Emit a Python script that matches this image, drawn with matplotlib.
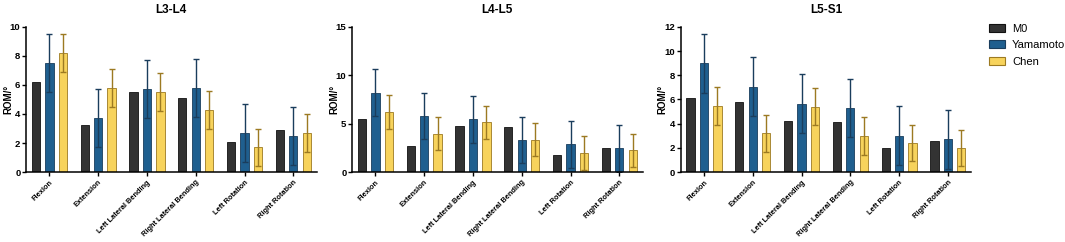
import numpy as np
import matplotlib.pyplot as plt
from matplotlib.patches import Patch

plt.rcParams['font.family'] = ['Liberation Sans', 'DejaVu Sans']

motions = ['Flexion', 'Extension', 'Left Lateral Bending',
           'Right Lateral Bending', 'Left Rotation', 'Right Rotation']
groups = ['M0', 'Yamamoto', 'Chen']

# L3-L4
l34_m0 = [6.2, 3.25, 5.5, 5.1, 2.1, 2.9]
l34_yam = [7.5, 3.7, 5.7, 5.8, 2.7, 2.5]
l34_yam_sd = [2.0, 2.0, 2.0, 2.0, 2.0, 2.0]
l34_chen = [8.2, 5.8, 5.5, 4.3, 1.7, 2.7]
l34_chen_sd = [1.3, 1.3, 1.3, 1.3, 1.3, 1.3]

# L4-L5
l45_m0 = [5.5, 2.65, 4.75, 4.65, 1.8, 2.5]
l45_yam = [8.2, 5.8, 5.45, 3.3, 2.85, 2.45]
l45_yam_sd = [2.4, 2.4, 2.4, 2.4, 2.4, 2.4]
l45_chen = [6.2, 3.95, 5.15, 3.35, 2.0, 2.25]
l45_chen_sd = [1.75, 1.7, 1.7, 1.7, 1.75, 1.7]

# L5-S1
l5s1_m0 = [6.15, 5.8, 4.2, 4.15, 1.95, 2.55]
l5s1_yam = [9.0, 7.05, 5.65, 5.3, 3.0, 2.7]
l5s1_yam_sd = [2.45, 2.45, 2.45, 2.4, 2.45, 2.45]
l5s1_chen = [5.45, 3.2, 5.4, 3.0, 2.4, 2.0]
l5s1_chen_sd = [1.55, 1.55, 1.55, 1.55, 1.5, 1.5]

panels = [
    ('L3-L4', l34_m0, l34_yam, l34_yam_sd, l34_chen, l34_chen_sd, 10, 2),
    ('L4-L5', l45_m0, l45_yam, l45_yam_sd, l45_chen, l45_chen_sd, 15, 5),
    ('L5-S1', l5s1_m0, l5s1_yam, l5s1_yam_sd, l5s1_chen, l5s1_chen_sd, 12, 2),
]

fill = ['#333333', '#1f5f8f', '#f7d35c']
edge = ['#111111', '#1a3d5c', '#9c7a22']

fig = plt.figure(figsize=(10.65, 2.42), dpi=100)
lefts = [0.0244, 0.3305, 0.639]
width = 0.273
bw = 0.17
off = 0.275
x = np.arange(len(motions))

for left, (title, m0, yam, yam_sd, chen, chen_sd, ymax, step) in zip(lefts, panels):
    ax = fig.add_axes([left, 0.289, width, 0.6])
    ax.bar(x - off, m0, bw, color=fill[0], edgecolor=edge[0], linewidth=0.6)
    ax.bar(x, yam, bw, color=fill[1], edgecolor=edge[1], linewidth=0.6,
           yerr=yam_sd, ecolor=edge[1],
           error_kw=dict(elinewidth=1.0, capsize=2, capthick=1.0))
    ax.bar(x + off, chen, bw, color=fill[2], edgecolor=edge[2], linewidth=0.6,
           yerr=chen_sd, ecolor=edge[2],
           error_kw=dict(elinewidth=1.0, capsize=2, capthick=1.0))
    ax.set_xlim(-0.48, len(motions) - 0.52)
    ax.set_ylim(0, ymax)
    ax.set_yticks(np.arange(0, ymax + 0.1, step))
    ax.set_xticks(x)
    ax.set_xticklabels(motions, rotation=45, ha='right', rotation_mode='anchor',
                       fontsize=5.3, fontweight='bold')
    for lab in ax.get_yticklabels():
        lab.set_fontsize(6.8)
        lab.set_fontweight('bold')
    ax.set_ylabel('ROM/°', fontsize=7, fontweight='bold')
    ax.yaxis.set_label_coords(-0.045, 0.5)
    ax.set_title(title, fontsize=8.5, fontweight='bold', pad=10)
    for s in ['top', 'right']:
        ax.spines[s].set_visible(False)
    for s in ['left', 'bottom']:
        ax.spines[s].set_linewidth(1.1)
    ax.tick_params(axis='y', length=3, width=1.0, pad=1)
    ax.tick_params(axis='x', length=3, width=1.0, pad=2)

handles = [Patch(facecolor=fill[i], edgecolor=edge[i], linewidth=0.8, label=groups[i])
           for i in range(3)]
fig.legend(handles=handles, loc='upper left', bbox_to_anchor=(0.922, 0.93),
           frameon=False, fontsize=8, handlelength=1.5, handleheight=0.7,
           labelspacing=0.6, handletextpad=0.6, borderaxespad=0.2)

fig.savefig('out.png', dpi=100)
